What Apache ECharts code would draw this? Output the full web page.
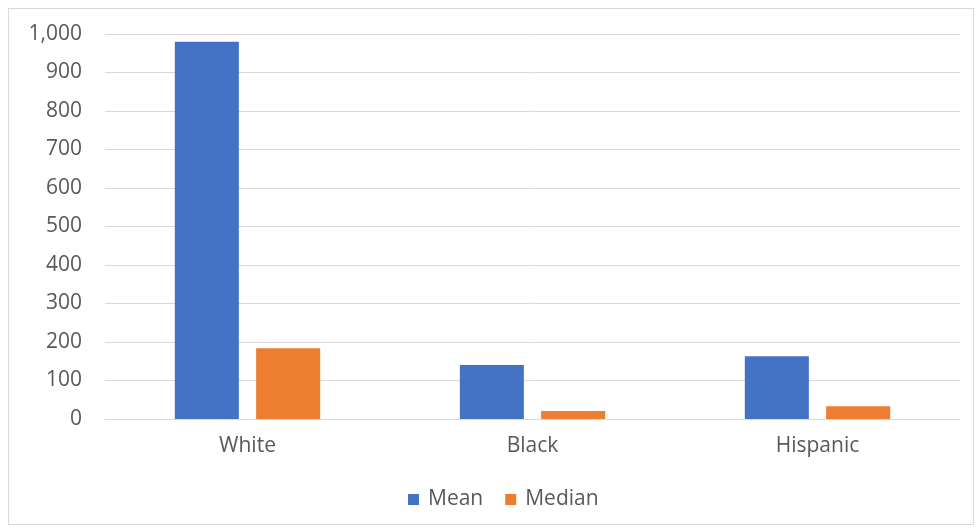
<!DOCTYPE html>
<html>
<head>
<meta charset="utf-8">
<script src="https://cdn.jsdelivr.net/npm/echarts@6/dist/echarts.min.js"></script>
<style>
html,body{margin:0;padding:0;background:#fff;}
#frame{position:absolute;left:8px;top:8px;width:966px;height:517px;border:1px solid #d9d9d9;box-sizing:border-box;}
#chart{position:absolute;left:0;top:0;width:979px;height:529px;}
</style>
</head>
<body>
<div id="frame"></div>
<div id="chart"></div>
<script>
const categories = ['White', 'Black', 'Hispanic'];
const meanValues = [980, 140, 163];
const medianValues = [184, 21, 33];
const seriesNames = ['Mean', 'Median'];

const chart = echarts.init(document.getElementById('chart'));
const font = '"Open Sans", "Noto Sans", sans-serif';
chart.setOption({
  animation: false,
  textStyle: { fontFamily: font },
  grid: { left: 105, right: 19, top: 34, bottom: 110 },
  legend: {
    top: 484,
    left: 403,
    itemWidth: 11,
    itemHeight: 11,
    itemGap: 22,
    icon: 'rect',
    textStyle: { fontSize: 21, color: '#595959', fontFamily: font, padding: [0, 0, 0, 4] },
    data: seriesNames
  },
  xAxis: {
    type: 'category',
    data: categories,
    axisLine: { lineStyle: { color: '#d9d9d9' } },
    axisTick: { show: false },
    axisLabel: { fontSize: 21, color: '#595959', margin: 17, fontFamily: font }
  },
  yAxis: {
    type: 'value',
    min: 0,
    max: 1000,
    interval: 100,
    axisLine: { show: false },
    axisTick: { show: false },
    splitLine: { lineStyle: { color: '#d9d9d9' } },
    axisLabel: {
      fontSize: 21, color: '#595959', margin: 23, fontFamily: font,
      formatter: v => v.toLocaleString('en-US')
    }
  },
  series: [
    { name: seriesNames[0], type: 'bar', data: meanValues, itemStyle: { color: '#4472c4' }, barGap: '27%', barCategoryGap: '49%' },
    { name: seriesNames[1], type: 'bar', data: medianValues, itemStyle: { color: '#ed7d31' }, barGap: '27%', barCategoryGap: '49%' }
  ]
});
</script>
</body>
</html>
